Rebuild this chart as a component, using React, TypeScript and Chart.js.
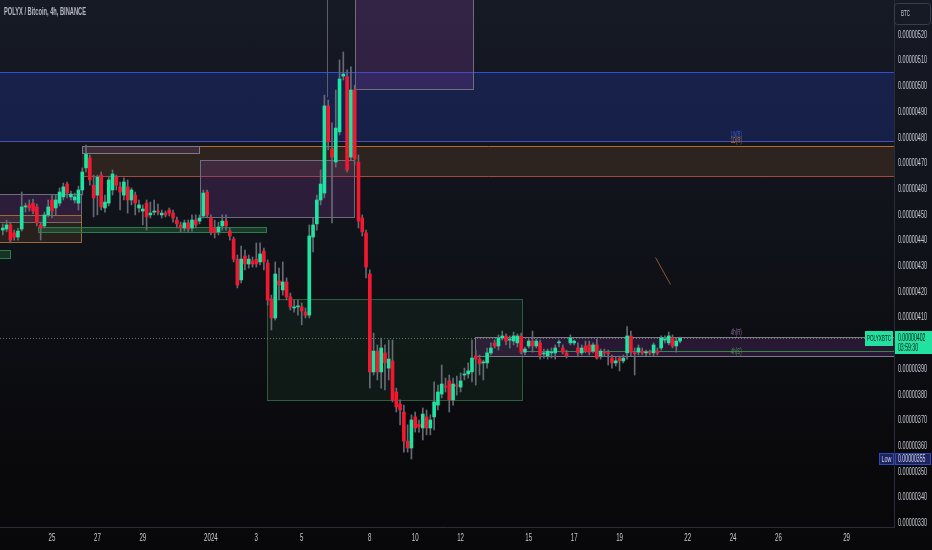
import { useEffect, useRef } from 'react';
import { Chart, registerables } from 'chart.js';

Chart.register(...registerables);

// ---- data ----
const symbolTitle = 'POLYX / Bitcoin, 4h, BINANCE';
const symbolTag = 'POLYXBTC';
const currencyLabel = 'BTC';
const countdown = '03:59:30';
const firstCandleUTC = Date.UTC(2023, 11, 22, 20);
const dayZeroUTC = Date.UTC(2023, 11, 25);
const candleHours = 4;

// prices in satoshi (1e-8 BTC)
const opens = [
  444.1, 444.5, 446.1, 443.0, 441.4, 444.5, 453.1, 453.9, 454.6, 453.1,
  446.1, 445.7, 450.0, 455.8, 452.7, 454.6, 457.0, 462.0, 457.0, 455.8,
  454.6, 459.7, 468.3, 472.2, 461.6, 457.7, 465.5, 452.7, 454.6, 459.7,
  464.7, 460.9, 457.7, 460.9, 455.8, 457.7, 452.7, 451.5, 454.6, 450.0,
  451.1, 451.5, 450.0, 450.7, 451.9, 450.7, 448.0, 446.1, 444.9, 446.9,
  444.9, 448.0, 447.6, 449.6, 458.9, 448.8, 444.9, 443.4, 445.7, 447.6,
  443.7, 440.6, 432.8, 424.7, 434.0, 430.9, 432.1, 432.8, 431.7, 435.9,
  431.3, 417.3, 409.9, 424.3, 420.8, 423.9, 418.1, 413.8, 414.2, 414.2,
  412.2, 411.0, 441.4, 446.5, 455.8, 458.5, 492.4, 475.7, 470.6, 482.3,
  504.0, 503.7, 472.5, 498.6, 470.6, 448.8, 443.0, 427.0, 388.9, 397.0,
  388.9, 396.3, 390.4, 393.2, 381.1, 376.4, 373.3, 362.0, 359.3, 371.4,
  368.6, 367.1, 371.4, 367.1, 371.4, 376.0, 380.3, 383.4, 385.4, 378.0,
  383.8, 383.0, 387.7, 388.1, 388.9, 395.1, 393.9, 392.4, 392.4, 396.3,
  400.2, 399.0, 402.1, 402.9, 401.3, 400.9, 400.2, 402.9, 396.6, 399.0,
  400.9, 399.0, 400.2, 395.9, 395.1, 396.3, 396.3, 400.2, 398.2, 396.3,
  400.2, 400.2, 398.2, 396.3, 399.0, 399.4, 397.0, 399.4, 395.1, 396.6,
  396.3, 394.3, 392.4, 394.3, 393.2, 396.3, 402.9, 396.3, 396.6, 397.0,
  396.3, 396.6, 396.3, 397.0, 398.2, 401.3, 400.2, 402.1, 399.0, 400.9,
];
const highs = [
  446.5, 448.0, 447.2, 444.1, 444.9, 458.9, 454.6, 455.8, 456.2, 454.2,
  447.2, 451.1, 455.8, 457.7, 457.7, 460.5, 462.4, 462.8, 459.3, 458.5,
  461.2, 468.3, 477.2, 473.3, 465.5, 465.5, 466.7, 457.7, 465.1, 467.5,
  465.5, 462.8, 464.4, 463.6, 460.5, 458.9, 455.8, 453.9, 455.8, 455.0,
  455.8, 454.2, 451.9, 451.5, 452.7, 451.9, 449.2, 447.2, 448.0, 448.0,
  450.0, 450.0, 450.0, 459.7, 459.7, 450.0, 448.0, 447.2, 450.0, 450.0,
  444.9, 441.4, 434.4, 437.9, 436.3, 434.4, 433.6, 439.1, 439.1, 437.1,
  432.5, 418.8, 431.7, 429.3, 431.7, 425.5, 419.6, 416.9, 416.9, 415.7,
  413.8, 446.1, 448.8, 457.7, 467.5, 496.6, 494.7, 485.8, 498.6, 510.3,
  513.4, 506.4, 507.6, 500.5, 473.3, 450.0, 444.1, 428.6, 404.0, 399.4,
  402.1, 399.4, 401.3, 401.3, 382.6, 378.0, 376.0, 368.3, 372.2, 373.3,
  370.2, 374.9, 374.1, 372.2, 385.0, 383.8, 391.6, 386.5, 387.7, 386.5,
  387.3, 388.5, 390.4, 392.4, 401.3, 397.4, 395.5, 393.5, 398.2, 400.2,
  401.3, 403.3, 404.8, 403.7, 402.9, 404.4, 403.7, 404.0, 398.6, 401.7,
  404.8, 401.7, 401.3, 397.8, 397.8, 398.2, 399.4, 401.3, 399.4, 397.4,
  403.3, 401.3, 400.2, 399.4, 400.9, 400.9, 400.2, 401.7, 397.8, 397.8,
  397.4, 395.5, 394.7, 395.1, 395.5, 406.5, 404.8, 398.2, 399.4, 398.2,
  397.4, 397.4, 400.2, 398.2, 402.9, 402.9, 404.4, 403.3, 402.1, 402.5,
];
const lows = [
  442.2, 443.4, 439.1, 440.2, 440.2, 443.7, 451.1, 451.5, 450.4, 445.7,
  440.2, 444.9, 449.2, 448.8, 450.0, 453.5, 455.8, 456.6, 455.8, 454.6,
  451.9, 457.7, 466.7, 461.6, 449.2, 450.0, 451.9, 451.1, 453.5, 457.7,
  459.7, 451.9, 455.8, 450.7, 453.9, 450.0, 451.1, 446.1, 444.1, 448.8,
  450.0, 450.0, 448.8, 449.2, 449.6, 447.2, 444.9, 443.4, 443.7, 443.4,
  443.7, 444.9, 446.5, 448.8, 448.8, 442.2, 441.0, 442.2, 444.1, 444.1,
  440.2, 431.7, 421.6, 423.5, 428.6, 429.3, 429.7, 429.7, 430.5, 428.6,
  414.9, 405.2, 409.1, 416.9, 418.8, 416.9, 413.0, 412.2, 411.0, 407.2,
  409.9, 409.9, 435.6, 444.1, 453.9, 456.6, 475.3, 446.9, 468.6, 481.1,
  502.5, 466.7, 471.4, 469.4, 444.9, 441.8, 425.5, 382.6, 387.7, 385.8,
  382.6, 381.9, 385.8, 377.2, 373.3, 368.3, 357.7, 357.7, 355.0, 365.5,
  365.5, 362.4, 364.4, 364.4, 366.3, 374.1, 378.8, 381.1, 373.3, 376.0,
  379.9, 381.1, 385.8, 386.5, 385.0, 383.8, 387.7, 385.8, 390.4, 395.5,
  398.2, 397.4, 401.3, 399.4, 398.2, 399.4, 398.6, 395.9, 395.5, 398.2,
  396.6, 398.2, 393.9, 394.3, 393.9, 394.3, 393.9, 398.6, 395.9, 394.3,
  399.4, 399.4, 394.7, 395.5, 396.3, 395.5, 396.3, 393.9, 393.9, 395.1,
  391.6, 390.4, 391.2, 389.3, 392.4, 393.9, 395.1, 387.7, 395.5, 395.5,
  395.1, 395.5, 395.1, 395.5, 397.4, 400.2, 399.4, 398.2, 396.6, 400.2,
];
const closes = [
  444.9, 446.1, 440.2, 441.4, 443.7, 453.1, 453.5, 452.7, 451.5, 446.9,
  444.9, 450.0, 453.1, 451.5, 455.8, 458.9, 460.9, 458.5, 458.1, 457.0,
  459.7, 466.7, 473.7, 463.6, 456.6, 464.7, 453.1, 455.0, 463.6, 465.9,
  461.6, 458.9, 462.8, 455.8, 459.7, 454.6, 453.9, 452.3, 449.2, 450.7,
  451.5, 451.1, 450.7, 450.0, 450.7, 448.8, 446.5, 444.9, 446.9, 444.5,
  448.0, 446.1, 448.8, 458.5, 450.0, 443.4, 443.0, 445.3, 447.6, 445.7,
  441.8, 432.8, 422.7, 432.8, 430.9, 432.8, 430.9, 430.9, 434.8, 431.7,
  416.9, 409.9, 427.0, 422.7, 423.9, 418.1, 414.2, 414.2, 414.6, 412.6,
  411.0, 441.8, 446.1, 455.8, 462.0, 492.4, 478.4, 472.5, 483.8, 502.9,
  504.8, 467.5, 498.6, 471.8, 447.6, 443.4, 429.7, 388.9, 397.0, 388.9,
  398.2, 392.4, 393.9, 378.0, 375.3, 374.1, 362.0, 359.3, 370.2, 367.1,
  367.5, 372.5, 367.1, 370.2, 377.2, 381.1, 384.2, 383.0, 378.0, 384.2,
  383.4, 385.4, 388.1, 389.3, 394.3, 393.9, 392.0, 392.8, 396.3, 398.2,
  399.0, 402.1, 402.9, 400.9, 401.7, 402.9, 402.9, 396.6, 397.8, 400.9,
  399.0, 400.9, 395.5, 396.3, 397.0, 396.6, 398.2, 400.6, 396.6, 395.1,
  402.1, 400.9, 396.3, 398.2, 397.0, 396.6, 399.4, 394.3, 397.0, 396.3,
  396.0, 392.4, 393.2, 393.2, 394.3, 402.9, 396.6, 396.0, 398.2, 396.3,
  396.6, 396.3, 399.4, 396.3, 402.1, 401.7, 402.9, 399.0, 400.9, 402.0,
];

const yTickValues = [330, 340, 350, 360, 370, 380, 390, 400, 410, 420, 430, 440, 450, 460, 470, 480, 490, 500, 510, 520];
const xTickDays = [0, 2, 4, 7, 9, 11, 14, 16, 18, 21, 23, 25, 28, 30, 32, 35];
const xTickLabels = ['25', '27', '29', '2024', '3', '5', '8', '10', '12', '15', '17', '19', '22', '24', '26', '29'];
const lastPrice = 402;
const lowPrice = 355;
const viewDays = [-2.29, 37.09];
const viewPrices = [328.56, 533.62];

// zones in (day, price) units
const zones = [
  { x1: -3, x2: 40, top: 505.6, bottom: 478.4, fill: 'rgba(32,62,180,0.28)', topColor: '#2f50dc', bottomColor: '#4b50b8' },
  { x1: 1.32, x2: 40, top: 476.8, bottom: 464.7, fill: 'rgba(135,88,38,0.24)', topColor: '#b46c32', bottomColor: '#a44a3a' },
  { x1: 13.35, x2: 18.59, top: 545, bottom: 498.6, fill: 'rgba(118,56,142,0.3)', stroke: '#6e6e7a' },
  { x1: 6.52, x2: 13.35, top: 471.4, bottom: 448.8, fill: 'rgba(108,52,134,0.3)', stroke: '#6e6e7a' },
  { x1: 1.32, x2: 6.52, top: 476.8, bottom: 473.7, fill: 'rgba(112,60,122,0.28)', stroke: '#7a7a84' },
  { x1: -3, x2: 1.32, top: 458.1, bottom: 446.9, fill: 'rgba(108,52,134,0.3)', stroke: '#6e6e7a' },
  { x1: -3, x2: 1.32, top: 450.0, bottom: 439.1, fill: 'rgba(135,88,38,0.2)', stroke: '#9a6a3a' },
  { x1: -0.62, x2: 9.47, top: 445.3, bottom: 443.0, fill: 'rgba(40,150,80,0.3)', stroke: '#2f7a4a' },
  { x1: -3, x2: -1.8, top: 436.3, bottom: 432.8, fill: 'rgba(40,150,80,0.25)', stroke: '#2f7a4a' },
  { x1: 9.47, x2: 20.75, top: 417.3, bottom: 377.6, fill: 'rgba(36,96,56,0.17)', stroke: '#2e5d3e' },
  { x1: 18.63, x2: 40, top: 402.5, bottom: 394.7, fill: 'rgba(102,46,122,0.32)', stroke: '#7a7a84' },
];
const levelLines = [
  { x1: 20.75, x2: 40, y1: 397.0, y2: 397.0, color: '#2f8a4a' },
  { x1: 12.11, x2: 12.11, y1: 545, y2: 496, color: '#5c5f6a' },
  { x1: 26.56, x2: 27.22, y1: 433.6, y2: 423.1, color: '#8c5a38' },
];
const levelTexts = [
  { day: 29.9, price: 481.4, text: '1W(R)', color: '#3d5bd9' },
  { day: 29.9, price: 478.9, text: '1D(R)', color: '#b87333' },
  { day: 29.9, price: 404.4, text: '4h(R)', color: '#8c6a9c' },
  { day: 29.9, price: 397.0, text: '4h(S)', color: '#4a8c5c' },
];

const UP = '#1ee3a1';
const DOWN = '#f3182f';
const WICK = '#666a75';
const FONT = "'Liberation Sans', 'DejaVu Sans', sans-serif";
const AXIS_TEXT = '#c8cbd3';

const candleDays = opens.map((_, i) => (firstCandleUTC + i * candleHours * 3600000 - dayZeroUTC) / 86400000);
const fmt = (v: number) => (v / 1e8).toFixed(8);

// draw text squeezed horizontally to a target width (the reference uses a condensed look)
function fitText(ctx: CanvasRenderingContext2D, text: string, x: number, y: number, font: string, color: string, width: number, align: 'left' | 'center' = 'left') {
  ctx.save();
  ctx.font = font;
  ctx.fillStyle = color;
  ctx.textBaseline = 'middle';
  ctx.textAlign = 'left';
  const w = ctx.measureText(text).width;
  const sx = width / w;
  const startX = align === 'center' ? x - width / 2 : x;
  ctx.translate(startX, y);
  ctx.scale(sx, 1);
  ctx.fillText(text, 0, 0);
  ctx.restore();
}

const overlayPlugin = {
  id: 'overlays',
  beforeDatasetsDraw(chart: any) {
    const { ctx, chartArea: a, scales } = chart;
    const xs = scales.x, ys = scales.y;
    ctx.save();
    ctx.beginPath();
    ctx.rect(a.left, a.top, a.right - a.left, a.bottom - a.top);
    ctx.clip();
    for (const z of zones) {
      const x1 = Math.round(xs.getPixelForValue(z.x1));
      const x2 = Math.round(xs.getPixelForValue(z.x2));
      const y1 = Math.round(ys.getPixelForValue(z.top));
      const y2 = Math.round(ys.getPixelForValue(z.bottom));
      ctx.fillStyle = z.fill;
      ctx.fillRect(x1, y1, x2 - x1, y2 - y1);
      ctx.lineWidth = 1;
      if (z.stroke) {
        ctx.strokeStyle = z.stroke;
        ctx.strokeRect(x1 + 0.5, y1 + 0.5, x2 - x1 - 1, y2 - y1 - 1);
      }
      if (z.topColor) {
        ctx.strokeStyle = z.topColor;
        ctx.beginPath(); ctx.moveTo(x1, y1 + 0.5); ctx.lineTo(x2, y1 + 0.5); ctx.stroke();
      }
      if (z.bottomColor) {
        ctx.strokeStyle = z.bottomColor;
        ctx.beginPath(); ctx.moveTo(x1, y2 - 0.5); ctx.lineTo(x2, y2 - 0.5); ctx.stroke();
      }
    }
    for (const l of levelLines) {
      ctx.strokeStyle = l.color;
      ctx.lineWidth = 1;
      ctx.beginPath();
      ctx.moveTo(Math.round(xs.getPixelForValue(l.x1)) + 0.5, Math.round(ys.getPixelForValue(l.y1)) + 0.5);
      ctx.lineTo(Math.round(xs.getPixelForValue(l.x2)) + 0.5, Math.round(ys.getPixelForValue(l.y2)) + 0.5);
      ctx.stroke();
    }
    const py = Math.round(ys.getPixelForValue(lastPrice)) + 0.5;
    ctx.strokeStyle = 'rgba(120,150,135,0.75)';
    ctx.setLineDash([1, 2]);
    ctx.beginPath(); ctx.moveTo(a.left, py); ctx.lineTo(a.right, py); ctx.stroke();
    ctx.setLineDash([]);
    for (const t of levelTexts) {
      fitText(ctx, t.text, xs.getPixelForValue(t.day), ys.getPixelForValue(t.price), '9px ' + FONT, t.color, 11);
    }
    ctx.restore();
  },
  afterDraw(chart: any) {
    const { ctx, chartArea: a, scales, width } = chart;
    const xs = scales.x, ys = scales.y;
    ctx.save();
    // axis tick labels (from the scales' ticks)
    for (const t of ys.ticks) {
      fitText(ctx, fmt(t.value), a.right + 4, ys.getPixelForValue(t.value), '10px ' + FONT, AXIS_TEXT, 29);
    }
    for (const t of xs.ticks) {
      const k = xTickDays.indexOf(t.value);
      const label = k >= 0 ? xTickLabels[k] : '';
      fitText(ctx, label, xs.getPixelForValue(t.value), a.bottom + 11, '11px ' + FONT, AXIS_TEXT, label.length * 3.4, 'center');
    }
    // title
    fitText(ctx, symbolTitle, 4, 12, 'bold 11px ' + FONT, '#b6b9c2', 82);
    // currency box
    ctx.strokeStyle = '#3a3e4a';
    ctx.lineWidth = 1;
    ctx.beginPath();
    (ctx as any).roundRect(a.right + 0.5, 3.5, 36, 21, 3);
    ctx.stroke();
    fitText(ctx, currencyLabel, a.right + 7, 14, '9px ' + FONT, AXIS_TEXT, 9);
    // last price label
    const pY = Math.round(ys.getPixelForValue(lastPrice));
    ctx.fillStyle = '#22e2a2';
    ctx.fillRect(a.right + 1, pY - 7, width - a.right - 1, 23);
    ctx.fillRect(a.right - 29, pY - 7, 28, 15);
    fitText(ctx, fmt(lastPrice), a.right + 4, pY + 0.5, '10px ' + FONT, '#0c1612', 27.5);
    fitText(ctx, countdown, a.right + 4, pY + 10.5, '10px ' + FONT, '#0c1612', 20);
    fitText(ctx, symbolTag, a.right - 27, pY + 0.5, '9px ' + FONT, '#0c1612', 24);
    // low label
    const lY = Math.round(ys.getPixelForValue(lowPrice));
    ctx.fillStyle = '#1b2460';
    ctx.strokeStyle = '#3149b8';
    ctx.fillRect(a.right + 1, lY - 6, width - a.right - 2, 12);
    ctx.strokeRect(a.right + 1.5, lY - 5.5, width - a.right - 3, 11);
    ctx.fillRect(a.right - 15, lY - 6, 15, 12);
    ctx.strokeRect(a.right - 14.5, lY - 5.5, 14, 11);
    fitText(ctx, fmt(lowPrice), a.right + 4, lY + 0.5, '10px ' + FONT, '#d0d4e0', 27.5);
    fitText(ctx, 'Low', a.right - 12.5, lY + 0.5, '9px ' + FONT, '#d0d4e0', 10);
    ctx.restore();
  },
};

export default function App() {
  const ref = useRef<HTMLCanvasElement | null>(null);
  useEffect(() => {
    if (!ref.current) return;
    const bodies = opens.map((o, i) => ({ x: candleDays[i], y: [o, closes[i]] }));
    const wicks = opens.map((_, i) => ({ x: candleDays[i], y: [lows[i], highs[i]] }));
    const colors = opens.map((o, i) => (closes[i] >= o ? UP : DOWN));
    const chart = new Chart(ref.current, {
      type: 'bar',
      data: {
        datasets: [
          { data: bodies as any, backgroundColor: colors, barThickness: 3, minBarLength: 1, borderWidth: 0, grouped: false } as any,
          { data: wicks as any, backgroundColor: WICK, barThickness: 1, minBarLength: 1, borderWidth: 0, grouped: false } as any,
        ],
      },
      options: {
        animation: false,
        responsive: false,
        maintainAspectRatio: false,
        layout: { padding: 0 },
        plugins: { legend: { display: false }, tooltip: { enabled: false }, title: { display: false } },
        scales: {
          x: {
            type: 'linear',
            offset: false,
            min: viewDays[0],
            max: viewDays[1],
            grid: { display: false, drawTicks: false },
            border: { display: true, color: '#2a2e39' },
            afterBuildTicks: (s: any) => { s.ticks = xTickDays.map((v) => ({ value: v })); },
            afterFit: (s: any) => { s.height = 23; s.paddingLeft = 0; s.paddingRight = 0; },
            ticks: { display: false },
          },
          y: {
            type: 'linear',
            position: 'right',
            min: viewPrices[0],
            max: viewPrices[1],
            grid: { display: false, drawTicks: false },
            border: { display: true, color: '#2a2e39' },
            afterBuildTicks: (s: any) => { s.ticks = yTickValues.map((v) => ({ value: v })); },
            afterFit: (s: any) => { s.width = 38; s.paddingTop = 0; s.paddingBottom = 0; },
            ticks: { display: false },
          },
        },
      },
      plugins: [overlayPlugin],
    });
    return () => chart.destroy();
  }, []);
  return (
    <div style={{ position: 'fixed', left: 0, top: 0, width: 932, height: 550, background: 'linear-gradient(180deg, #161a25 0%, #101219 45%, #0a0a0d 80%, #08080a 100%)' }}>
      <canvas ref={ref} width={932} height={550} style={{ display: 'block', width: 932, height: 550 }} />
    </div>
  );
}
